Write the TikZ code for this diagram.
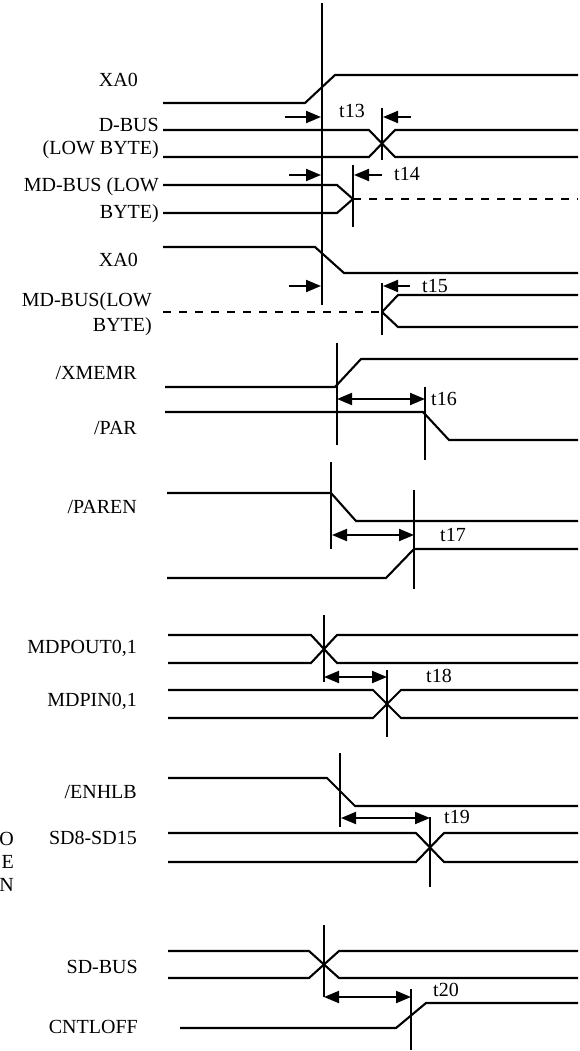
\documentclass[tikz,border=0pt]{standalone}
\usepackage{fontspec}
\setmainfont{Liberation Serif}
\usepackage{tikz}
\usetikzlibrary{arrows.meta}

\begin{document}
\begin{tikzpicture}[x=1pt,y=-1pt,
    sig/.style={line width=2.1pt},
    vline/.style={line width=1.5pt},
    lbl/.style={anchor=base east, inner sep=0pt, font=\fontsize{20}{23}\selectfont},
    tlbl/.style={anchor=base west, inner sep=0pt, font=\fontsize{20}{23}\selectfont},
    arrowin/.style={line width=2pt, -{Triangle[length=15pt,width=12pt]}},
    dimarrow/.style={line width=2pt, {Triangle[length=15pt,width=12pt]}-{Triangle[length=15pt,width=12pt]}}]
  \useasboundingbox (0,0) rectangle (580,1051);

  % --- XA0 / D-BUS / MD-BUS ---
  \draw[vline] (322,3) -- (322,305);
  \node[lbl] (xa0a) at (138,86.5) {XA0};
  \draw[sig] (163,103) -- (305,103) -- (335,75) -- (578,75);

  \node[lbl] (dbus) at (159,131.5) {D-BUS};
  \node[lbl] (dbusl) at (159,154.5) {(LOW BYTE)};
  \draw[sig] (163,130) -- (369,130) -- (395,157) -- (578,157);
  \draw[sig] (163,157) -- (369,157) -- (395,130) -- (578,130);
  \draw[vline] (382,108) -- (382,160);
  \coordinate (a13) at (285,117);
  \coordinate (b13) at (411,117);
  \draw[arrowin] (a13) -- (321,117);
  \draw[arrowin] (b13) -- (383,117);
  \node[tlbl] (t13) at (339,118) {t13};

  \node[lbl] (mdbus) at (159,192) {MD-BUS (LOW};
  \node[lbl] (mdbusl) at (159,218) {BYTE)};
  \draw[sig] (163,185) -- (337,185) -- (353,199);
  \draw[sig] (163,213) -- (337,213) -- (353,199);
  \draw[sig, dash pattern=on 8pt off 8pt] (353,199) -- (578,199);
  \draw[vline] (353,165) -- (353,227);
  \coordinate (a14) at (289,175);
  \coordinate (b14) at (382,175);
  \draw[arrowin] (a14) -- (321,175);
  \draw[arrowin] (b14) -- (354,175);
  \node[tlbl] (t14) at (394,181) {t14};

  \node[lbl] (xa0b) at (138,266) {XA0};
  \draw[sig] (163,247) -- (315,247) -- (344,273) -- (578,273);

  \node[lbl] (mdbus2) at (152,306) {MD-BUS(LOW};
  \node[lbl] (mdbus2l) at (152,331) {BYTE)};
  \draw[sig, dash pattern=on 8pt off 8pt] (163,312) -- (382,312);
  \draw[sig] (382,312) -- (398,295) -- (578,295);
  \draw[sig] (382,312) -- (398,327) -- (578,327);
  \draw[vline] (382,283) -- (382,335);
  \coordinate (a15) at (289,286);
  \coordinate (b15) at (410,286);
  \draw[arrowin] (a15) -- (321,286);
  \draw[arrowin] (b15) -- (383,286);
  \node[tlbl] (t15) at (422,292) {t15};

  % --- /XMEMR / /PAR ---
  \node[lbl] (xmemr) at (137,379.5) {/XMEMR};
  \draw[sig] (165,387) -- (335,387) -- (361,359) -- (578,359);
  \draw[vline] (337,343) -- (337,445);
  \node[lbl] (par) at (137,434) {/PAR};
  \draw[sig] (165,412) -- (423,412) -- (449,440) -- (578,440);
  \draw[vline] (425,387) -- (425,460);
  \coordinate (a16) at (337,399);
  \coordinate (b16) at (425,399);
  \draw[dimarrow] (a16) -- (b16);
  \node[tlbl] (t16) at (431,405) {t16};

  % --- /PAREN ---
  \node[lbl] (paren) at (137,513) {/PAREN};
  \draw[sig] (167,493) -- (331,493) -- (356,521) -- (578,521);
  \draw[vline] (331,462) -- (331,549);
  \draw[sig] (167,578) -- (386,578) -- (414,549) -- (578,549);
  \draw[vline] (414,490) -- (414,589);
  \coordinate (a17) at (332,535);
  \coordinate (b17) at (414,535);
  \draw[dimarrow] (a17) -- (b17);
  \node[tlbl] (t17) at (440,541) {t17};

  % --- MDPOUT0,1 / MDPIN0,1 ---
  \node[lbl] (mdpout) at (137,653) {MDPOUT0,1};
  \draw[sig] (168,635) -- (311,635) -- (337,663) -- (578,663);
  \draw[sig] (168,663) -- (311,663) -- (337,635) -- (578,635);
  \draw[vline] (324,615) -- (324,682);
  \node[lbl] (mdpin) at (137,706.5) {MDPIN0,1};
  \draw[sig] (168,690) -- (373,690) -- (401,718) -- (578,718);
  \draw[sig] (168,718) -- (373,718) -- (401,690) -- (578,690);
  \draw[vline] (387,670) -- (387,737);
  \coordinate (a18) at (324,677);
  \coordinate (b18) at (387,677);
  \draw[dimarrow] (a18) -- (b18);
  \node[tlbl] (t18) at (426,682) {t18};

  % --- /ENHLB / SD8-SD15 ---
  \node[lbl] (enhlb) at (137,798) {/ENHLB};
  \draw[sig] (168,778) -- (327,778) -- (355,806) -- (578,806);
  \draw[vline] (340,753) -- (340,827);
  \node[lbl] (sd8) at (137,844) {SD8-SD15};
  \draw[sig] (168,833) -- (416,833) -- (444,862) -- (578,862);
  \draw[sig] (168,862) -- (416,862) -- (444,833) -- (578,833);
  \draw[vline] (430,817) -- (430,887);
  \coordinate (a19) at (341,818);
  \coordinate (b19) at (430,818);
  \draw[dimarrow] (a19) -- (b19);
  \node[tlbl] (t19) at (444,823) {t19};
  \node[lbl, anchor=north east, align=right] (cut) at (14,832) {O\\E\\N};

  % --- SD-BUS / CNTLOFF ---
  \node[lbl] (sdbus) at (138,973) {SD-BUS};
  \draw[sig] (168,951) -- (309,951) -- (339,978) -- (578,978);
  \draw[sig] (168,978) -- (309,978) -- (339,951) -- (578,951);
  \draw[vline] (324,925) -- (324,997);
  \node[lbl] (cntloff) at (138,1033) {CNTLOFF};
  \draw[sig] (180,1028) -- (396,1028) -- (426,1003) -- (578,1003);
  \draw[vline] (411,989) -- (411,1050);
  \coordinate (a20) at (324,997);
  \coordinate (b20) at (411,997);
  \draw[dimarrow] (a20) -- (b20);
  \node[tlbl] (t20) at (433,996) {t20};
\end{tikzpicture}
\end{document}
